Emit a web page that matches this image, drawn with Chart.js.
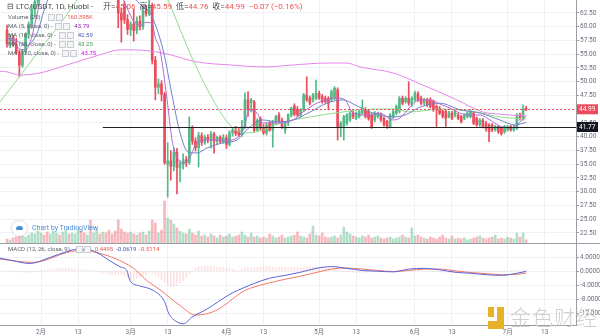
<!DOCTYPE html>
<html>
<head>
<meta charset="utf-8">
<title>LTC/USDT 1D</title>
<script src="https://cdn.jsdelivr.net/npm/chart.js@4.4.1/dist/chart.umd.min.js"></script>
<style>
  body { margin: 0; width: 600px; height: 336px; overflow: hidden; background: #fff; position: relative;
         font-family: Roboto, "Noto Sans CJK SC", sans-serif; }
  canvas { position: absolute; left: 0; }
  #priceCanvas { top: 0; }
  #macdCanvas { top: 243px; }
  .t { position: absolute; white-space: nowrap; line-height: 1; }
  .hdr { font-size: 8px; color: #4a4a4a; }
  .lg { font-size: 6px; color: #5d606b; }
  .up { color: #ef5350; }
  .ico { display: inline-block; width: 5px; height: 5px; border: 1px solid #c9cbd1; background: #f4f5f7;
         margin-right: 1px; vertical-align: middle; }
  #tv { left: 12px; top: 221px; font-size: 7px; color: #4a90d9; }
  #tv .c { display: inline-block; width: 15px; height: 15px; border-radius: 50%; background: #fff;
           box-shadow: 0 0 3px rgba(0,0,0,0.25); vertical-align: middle; margin-right: 5px; position: relative; }
  #tv .c:after { content: ''; position: absolute; left: 4px; top: 5px; width: 7px; height: 4px;
                 background: #4a90d9; border-radius: 3px 3px 1px 1px; }
  #logo { left: 488px; top: 306px; }
  #logo .mark { position: absolute; left: 0; top: 1px; width: 16px; height: 22px; }
  #logo .mark b { position: absolute; background: #e8b12a; }
  #logo .txt { position: absolute; left: 22px; top: 0; font-size: 21px; color: #cfcfcf; letter-spacing: 1px;
               font-family: "Noto Sans CJK SC", sans-serif; font-weight: 300; }
</style>
</head>
<body>
<canvas id="priceCanvas" width="600" height="243"></canvas>
<canvas id="macdCanvas" width="600" height="93"></canvas>

<div class="t hdr" style="left:7px;top:3px;">⊟ LTC/USDT, 1D, Huobi -</div>
<div class="t hdr" style="left:103px;top:3px;">开=<span class="up">45.06</span> &nbsp;高=<span class="up">45.59</span> &nbsp;低=<span class="up">44.76</span> &nbsp;收=<span class="up">44.99</span> &nbsp;<span class="up">−0.07 (−0.16%)</span></div>

<div class="t lg" style="left:8px;top:14px;">Volume (20) &nbsp;&nbsp;&nbsp;&nbsp;<span class="ico"></span><span class="ico"></span> &nbsp;<span class="up">160.398K</span></div>
<div class="t lg" style="left:8px;top:23px;">MA (5, close, 0) - &nbsp;<span class="ico"></span><span class="ico"></span> &nbsp;<span style="color:#9c27b0">43.79</span></div>
<div class="t lg" style="left:8px;top:32px;">MA (10, close, 0) - &nbsp;<span class="ico"></span><span class="ico"></span> &nbsp;<span style="color:#3f51b5">42.59</span></div>
<div class="t lg" style="left:8px;top:41px;">MA (30, close, 0) - &nbsp;<span class="ico"></span><span class="ico"></span> &nbsp;<span style="color:#43a047">43.25</span></div>
<div class="t lg" style="left:8px;top:50px;">MA (120, close, 0) - &nbsp;<span class="ico"></span><span class="ico"></span> &nbsp;<span style="color:#d500f9">43.75</span></div>

<div class="t lg" style="left:8px;top:246px;">MACD (12, 26, close, 9) &nbsp;&nbsp;&nbsp;<span class="ico"></span><span class="ico"></span> &nbsp;<span class="up">0.4495</span> &nbsp;<span style="color:#3f51b5">-0.0619</span> &nbsp;<span class="up">-0.5114</span></div>

<div class="t" id="tv"><span class="c"></span>Chart by TradingView</div>

<div class="t" id="logo">
  <div class="mark"><b style="left:0;top:0;width:6px;height:10px"></b><b style="left:9px;top:0;width:7px;height:17px"></b><b style="left:0;top:14px;width:16px;height:8px"></b></div>
  <div class="txt">金色财经</div>
</div>

<script>
// Daily candles [open, high, low, close], index 0 is the first visible day (late January).
const ohlc = [
  [59.4, 60.3, 56.3, 56.9], [56.9, 58.6, 56.2, 58.1], [58.1, 58.5, 56.4, 56.8], [56.8, 57.9, 55.0, 55.3],
  [55.3, 55.8, 50.9, 53.0], [53.0, 55.9, 52.6, 55.5], [55.5, 58.9, 55.1, 58.6], [58.6, 60.9, 57.9, 60.4],
  [60.4, 64.0, 59.7, 63.2], [63.2, 65.8, 61.8, 64.6], [64.6, 68.8, 63.9, 68.2], [68.2, 70.0, 66.8, 69.3],
  [69.3, 70.5, 67.2, 68.1], [68.1, 68.9, 65.6, 66.5], [66.5, 70.8, 66.0, 70.2], [70.2, 72.0, 68.9, 71.3],
  [71.3, 74.5, 70.6, 73.9], [73.9, 75.0, 71.4, 72.3], [72.3, 75.2, 71.8, 74.6], [74.6, 79.6, 73.9, 78.9],
  [78.9, 79.9, 73.2, 74.0], [74.0, 77.6, 73.4, 76.8], [76.8, 78.5, 75.1, 77.4], [77.4, 84.9, 77.0, 83.6],
  [83.6, 84.2, 74.2, 75.4], [75.4, 76.8, 70.1, 72.2], [72.2, 74.9, 71.8, 74.3], [74.3, 75.5, 70.5, 71.4],
  [71.4, 73.0, 69.8, 71.9], [71.9, 74.8, 71.2, 73.9], [73.9, 74.6, 71.0, 72.4], [72.4, 73.8, 70.9, 73.3],
  [73.3, 73.9, 68.2, 69.2], [69.2, 70.5, 67.5, 68.1], [68.1, 69.6, 66.4, 67.6], [67.6, 68.3, 65.2, 66.0],
  [66.0, 67.0, 59.8, 62.5], [62.5, 63.4, 57.2, 61.2], [63.8, 64.6, 60.6, 61.3], [61.3, 62.2, 58.6, 59.5],
  [59.5, 60.9, 58.4, 60.5], [60.5, 63.2, 57.4, 59.3], [59.3, 61.8, 58.7, 61.0], [61.0, 62.0, 59.4, 60.0],
  [60.0, 63.6, 59.5, 63.0], [63.0, 63.9, 61.9, 62.4], [62.4, 65.5, 62.0, 63.9], [63.9, 64.3, 53.2, 53.9],
  [53.9, 54.6, 46.7, 49.0], [49.0, 50.5, 47.8, 49.6], [49.6, 50.2, 46.5, 47.7], [47.7, 48.1, 35.0, 35.3],
  [35.0, 38.9, 29.0, 35.6], [35.6, 37.5, 32.1, 34.6], [34.6, 38.0, 33.8, 37.2], [37.2, 37.9, 29.6, 34.4],
  [34.4, 35.6, 31.8, 35.0], [35.0, 36.9, 34.1, 35.8], [35.8, 36.4, 34.6, 35.3], [35.3, 43.6, 35.0, 41.6],
  [41.6, 42.0, 38.6, 39.2], [39.2, 39.8, 37.4, 38.0], [38.0, 40.8, 34.5, 40.2], [40.2, 40.7, 38.4, 39.0],
  [39.0, 40.3, 38.6, 39.9], [39.9, 40.4, 38.9, 39.4], [39.4, 41.0, 37.9, 40.5], [40.5, 40.8, 37.0, 39.2],
  [39.2, 40.1, 38.7, 39.9], [39.9, 40.2, 38.9, 39.1], [39.1, 40.4, 38.8, 39.8], [39.8, 40.3, 37.9, 38.6],
  [38.6, 41.1, 38.3, 40.7], [40.7, 41.6, 40.1, 41.2], [41.2, 41.9, 40.2, 40.6], [41.0, 41.5, 40.0, 40.4],
  [40.4, 43.0, 40.1, 41.8], [41.8, 48.0, 41.5, 46.7], [46.7, 48.2, 43.7, 44.9], [46.2, 47.0, 44.5, 46.7],
  [46.3, 46.6, 40.8, 41.2], [41.2, 43.3, 40.9, 43.0], [43.3, 43.6, 41.2, 41.6], [41.6, 42.3, 40.4, 40.7],
  [40.7, 42.5, 40.3, 42.1], [42.4, 42.8, 41.0, 41.2], [41.2, 43.0, 38.1, 42.7], [42.7, 43.9, 42.3, 43.6],
  [43.9, 44.4, 42.5, 42.9], [42.9, 43.4, 41.5, 41.8], [41.2, 42.8, 40.6, 42.5], [42.5, 44.2, 42.0, 44.0],
  [43.9, 45.4, 43.6, 45.2], [45.6, 46.0, 43.8, 44.1], [45.0, 45.5, 43.7, 43.95], [43.95, 45.1, 43.6, 44.9],
  [44.9, 47.9, 44.6, 47.6], [47.6, 50.9, 46.4, 46.7], [47.0, 47.4, 45.8, 46.1], [46.7, 47.9, 46.3, 47.6],
  [47.0, 50.3, 46.7, 47.9], [47.9, 48.3, 46.8, 47.0], [47.3, 47.7, 46.1, 46.4], [47.0, 47.4, 46.1, 46.4],
  [47.0, 47.3, 44.9, 46.1], [46.7, 48.5, 46.4, 48.2], [47.0, 49.1, 46.7, 48.8], [48.5, 48.9, 39.4, 41.8],
  [41.6, 42.8, 40.0, 42.45], [41.85, 43.9, 39.4, 43.65], [42.45, 44.2, 42.1, 43.95], [43.05, 44.6, 42.8, 44.3],
  [44.3, 44.6, 43.3, 43.65], [43.35, 44.5, 43.1, 44.3], [43.65, 44.9, 43.4, 44.6], [44.3, 46.7, 44.0, 45.2],
  [44.9, 45.3, 43.4, 43.65], [44.6, 44.9, 43.0, 43.35], [43.95, 44.2, 41.5, 41.85], [43.05, 44.6, 42.7, 44.3],
  [43.65, 44.5, 43.4, 44.3], [43.95, 44.3, 42.8, 43.05], [43.35, 43.6, 41.9, 42.15], [42.75, 43.0, 41.5, 41.85],
  [41.85, 44.2, 41.6, 43.95], [43.65, 44.9, 43.3, 44.6], [44.3, 45.8, 44.0, 45.5], [44.6, 47.3, 44.3, 47.0],
  [47.0, 47.4, 45.8, 46.1], [46.4, 47.3, 46.1, 47.0], [47.0, 50.0, 45.7, 46.1], [45.8, 47.3, 45.5, 47.0],
  [46.7, 48.3, 46.4, 47.9], [47.8, 48.2, 46.4, 46.7], [47.0, 47.4, 45.8, 46.1], [46.1, 47.0, 45.8, 46.7],
  [46.7, 47.0, 45.5, 45.8], [46.7, 47.1, 45.2, 45.5], [46.4, 46.7, 44.6, 44.9], [45.5, 45.8, 41.85, 44.9],
  [45.2, 45.5, 44.0, 44.3], [44.6, 44.9, 43.4, 43.65], [44.6, 44.9, 41.85, 43.35], [43.65, 44.6, 43.4, 44.3],
  [44.3, 44.6, 43.1, 43.35], [43.95, 44.9, 43.6, 44.6], [43.95, 44.3, 43.1, 43.35], [43.65, 43.9, 42.5, 42.75],
  [43.35, 44.2, 43.1, 43.95], [43.65, 44.5, 43.4, 44.3], [43.65, 44.9, 43.4, 44.6], [44.3, 44.6, 42.2, 42.45],
  [43.35, 43.6, 41.9, 42.15], [42.15, 43.3, 41.9, 43.05], [43.05, 43.3, 41.6, 41.85], [42.45, 42.8, 41.0, 41.55],
  [42.15, 42.4, 39.1, 40.9], [42.15, 42.4, 40.9, 41.25], [41.25, 42.1, 41.0, 41.85], [41.85, 42.1, 40.6, 40.9],
  [41.55, 41.8, 40.3, 40.6], [40.9, 42.1, 40.6, 41.85], [41.25, 42.1, 41.0, 41.85], [41.85, 42.1, 41.0, 41.25],
  [41.25, 42.1, 41.0, 41.7], [41.55, 44.2, 41.3, 43.95], [43.95, 44.3, 43.0, 43.35], [43.2, 45.8, 43.0, 45.06],
  [45.06, 45.59, 44.76, 44.99]
];

// Daily volume, thousands of LTC
const volumes = [
  200, 150, 250, 300, 450, 350, 300, 400, 500, 450, 600, 500, 400, 550, 450, 600, 500, 400, 550, 650,
  450, 500, 450, 700, 600, 500, 400, 1150, 500, 700, 450, 550, 500, 650, 450, 600, 1150, 700, 550, 500,
  550, 450, 400, 500, 550, 400, 600, 1150, 1000, 500, 650, 2100, 1250, 1150, 950, 750, 600, 500, 450, 700,
  500, 400, 600, 350, 400, 300, 450, 350, 250, 400, 300, 350, 450, 300, 350, 400, 550, 400, 300, 500,
  300, 350, 250, 300, 250, 450, 350, 250, 300, 400, 250, 300, 350, 400, 550, 350, 300, 250, 450, 850,
  400, 350, 500, 300, 250, 300, 350, 250, 400, 800, 550, 450, 350, 300, 250, 350, 300, 400, 250, 300,
  350, 250, 200, 250, 300, 200, 250, 300, 400, 300, 250, 750, 350, 400, 300, 250, 200, 300, 250, 200,
  300, 400, 250, 200, 350, 200, 250, 200, 250, 150, 200, 250, 300, 350, 250, 200, 250, 300, 400, 200,
  250, 200, 300, 250, 200, 500, 300, 500, 160.398
];

// Moving averages as [day index, value]
const ma5Pts = [[0, 57.9], [2, 57.3], [4, 56.0], [6, 55.8], [8, 58.1], [9, 60.5], [10, 63.0], [11, 65.8], [14, 68.5],
  [18, 72.5], [22, 76.5], [25, 78.0], [28, 74.5], [32, 72.0], [35, 68.5], [37, 65.8], [39, 63.2], [41, 61.0],
  [43, 60.3], [45, 60.8], [47, 60.5], [48, 58.0], [49.5, 55.8], [51.8, 46.7], [53.4, 39.4], [55, 36.3], [57, 35.2],
  [59.2, 36.3], [61.5, 38.9], [65.7, 39.4], [72.2, 39.4], [76.4, 41.2], [78.6, 44.9], [80.9, 44.3], [82.8, 42.5],
  [87.4, 42.5], [92.6, 43.05], [95.8, 44.5], [100.3, 46.1], [106.8, 47.05], [109.4, 46.7], [112, 44.3],
  [116.5, 43.95], [120.7, 44.3], [124.9, 43.05], [127.2, 43.4], [130.4, 45.4], [133.7, 46.7], [136.9, 46.7],
  [140.1, 45.95], [143.4, 45.2], [146.6, 44.3], [149.8, 43.95], [153.1, 43.95], [156.3, 43.05], [159.5, 41.95],
  [162.8, 41.6], [165, 42.15], [168, 43.79]];
const ma10Pts = [[0, 58.0], [3, 57.5], [6, 56.6], [8, 57.2], [10, 59.2], [12, 63.0], [14, 66.0], [20, 72.0],
  [25, 76.0], [30, 75.0], [35, 71.0], [40, 66.0], [44, 63.6], [46.3, 62.5], [50.5, 55.8], [53.7, 46.7], [56, 40.7],
  [58.6, 37.2], [61.5, 37.05], [64.7, 37.95], [69.9, 38.9], [74.4, 39.4], [78.6, 41.8], [82.8, 43.05], [87.4, 42.7],
  [92.6, 43.05], [98.1, 44.5], [103.6, 46.1], [108.7, 46.7], [112.6, 45.8], [117.5, 44.5], [124.9, 43.6],
  [128.8, 43.95], [133.7, 45.4], [140.1, 46.1], [146.6, 44.9], [153.1, 44.3], [159.5, 43.05], [164.4, 42.15],
  [168, 42.59]];
const ma30Pts = [[-2.3, 46.3], [4.2, 51.05], [10.7, 55.9], [17.2, 60.5], [22.7, 64.86], [28, 68], [35, 71],
  [40, 71.5], [45, 70], [50, 67.5], [52.1, 64.86], [60.2, 53.95], [66.7, 46.7], [72.2, 42.1], [77, 40.7],
  [81.9, 41.05], [86.7, 42.1], [92.6, 43.05], [98.1, 43.6], [103.6, 44.1], [108.7, 44.5], [114.2, 44.9],
  [124.9, 45.05], [130.4, 44.5], [134.6, 44.7], [140.1, 45.05], [145.6, 44.9], [152.1, 44.5], [159.5, 43.6],
  [168, 43.25]];
const ma120Pts = [[-2.3, 51.9], [0, 51.8], [4.2, 51.2], [10.7, 51.6], [19.4, 53.05], [30.1, 54.9], [36.6, 55.8],
  [40.8, 55.8], [50.5, 55.2], [61.5, 53.6], [72.2, 53.05], [83.5, 52.7], [92.6, 53.05], [103.6, 53.4], [110, 53.4],
  [114.2, 52.7], [124.9, 51.6], [134.6, 49.4], [145.6, 46.7], [154, 44.5], [159.5, 44.1], [165, 43.85],
  [168, 43.75]];

// MACD (12, 26, 9) lines as [day index, value]
const macdPts = [[-2.3, 3.7], [1, 3.15], [7.4, 2.2], [13.9, 3.9], [19.4, 5.6], [22.7, 6.25], [25.9, 6.25],
  [29.1, 5.3], [33.3, 2.95], [36.6, 1.25], [38.8, 0.15], [39.8, -2.7], [43, -4.2], [47.3, -5.5], [51, -8.7],
  [52.3, -12.0], [54.7, -14.3], [57.2, -15.0], [59.7, -13.2], [64.7, -10.8], [72.1, -6.6], [74.6, -5.5],
  [80, -3.5], [85, -2.0], [90, -1.2], [95, -0.3], [100, 0.8], [105, 1.3], [110, 0.8], [115, 0.2], [120, 0.0],
  [125, -0.2], [130, 0.6], [135, 0.8], [140, 0.4], [145, -0.3], [150, -0.6], [155, -1.0], [160, -1.2],
  [165, -0.6], [168, -0.0619]];
const signalPts = [[-2.3, 3.45], [8.4, 2.5], [22.7, 5.8], [29.1, 5.3], [40.8, 0.9], [45, -2.5], [49.8, -5.5],
  [56, -9.8], [61, -12.5], [67.2, -11.4], [77, -5.5], [80, -4.5], [85, -3.3], [90, -2.3], [95, -1.4],
  [100, -0.4], [105, 0.6], [110, 0.9], [115, 0.6], [120, 0.2], [125, -0.1], [130, 0.2], [135, 0.6], [140, 0.6],
  [145, 0.1], [150, -0.4], [155, -0.7], [160, -1.0], [165, -0.9], [168, -0.5114]];
// MACD histogram, one bar per day
const histVals = [
  0.2, 0.1, 0.0, -0.1, -0.2, -0.3, -0.35, -0.35, -0.3, -0.2,
  -0.1, 0.0, 0.2, 0.3, 0.4, 0.6, 0.7, 0.8, 0.9, 1.0,
  0.9, 0.8, 0.6, 0.45, 0.4, 0.35, 0.3, 0.2, 0.1, 0.0,
  -0.2, -0.4, -0.6, -0.85, -0.9, -0.9, -0.85, -1.0, -1.3, -1.8,
  -2.4, -2.2, -2.0, -1.6, -1.2, -0.9, -0.6, -0.5, -0.9, -1.5,
  -2.5, -3.2, -3.8, -4.2, -4.3, -4.0, -3.4, -2.7, -1.8, -0.9,
  0.0, 0.8, 1.2, 1.4, 1.5, 1.5, 1.4, 1.3, 1.2, 1.1,
  1.0, 0.9, 0.8, 0.6, 0.3, 0.1, 0.5, 0.9, 1.0, 1.0,
  1.0, 1.1, 1.2, 1.3, 1.3, 1.3, 1.3, 1.2, 1.1, 1.1,
  1.1, 1.0, 1.0, 1.0, 1.0, 1.0, 1.0, 1.1, 1.2, 1.2,
  1.2, 1.1, 1.0, 0.9, 0.8, 0.7, 0.5, 0.3, 0.1, -0.1,
  -0.1, -0.2, -0.3, -0.4, -0.4, -0.4, -0.3, -0.3, -0.2, -0.2,
  -0.2, -0.2, -0.2, -0.1, -0.1, -0.1, 0.0, 0.1, 0.2, 0.3,
  0.4, 0.4, 0.3, 0.3, 0.2, 0.2, 0.1, 0.0, -0.1, -0.2,
  -0.2, -0.3, -0.3, -0.4, -0.4, -0.4, -0.3, -0.3, -0.2, -0.2,
  -0.2, -0.3, -0.3, -0.3, -0.3, -0.3, -0.2, -0.2, -0.2, -0.2,
  -0.2, -0.1, 0.0, 0.1, 0.2, 0.3, 0.3, 0.35, 0.4495
];

// Axis ticks
const priceTicks = [22.5, 25, 27.5, 30, 32.5, 35, 37.5, 40, 42.5, 45, 47.5, 50, 52.5, 55, 57.5, 60, 62.5];
const macdTicks = [4, 0, -4, -8, -12];
const timeTickIdx = [11, 23, 40, 52, 71, 83, 101, 113, 132, 144, 162, 174];
const timeTickLabels = ['2月', '13', '3月', '13', '4月', '13', '5月', '13', '6月', '13', '7月', '13'];

// Horizontal levels
const lastPrice = 44.99;
const supportLevel = 41.77;
const supportFrom = 31;

const UP = '#53b987', DOWN = '#eb4d5c';
const GRID = '#eff1f4';
const AXIS = '#9a9da6';
const X_MIN = -2.27, X_MAX = 184.14;

function isUp(c) { return c[3] >= c[0]; }
const candleColors = ohlc.map(c => isUp(c) ? UP : DOWN);
const volColors = ohlc.map(c => isUp(c) ? 'rgba(83,185,135,0.45)' : 'rgba(235,77,92,0.4)');
const pts = arr => arr.map(p => ({x: p[0], y: p[1]}));

function xAxis(showLabels) {
  return {
    type: 'linear', min: X_MIN, max: X_MAX, offset: false,
    afterBuildTicks: s => { s.ticks = timeTickIdx.map(v => ({value: v})); },
    grid: {color: GRID, drawTicks: false, offset: false},
    border: {display: showLabels, color: AXIS},
    ticks: {
      display: showLabels, padding: 3, maxRotation: 0, autoSkip: false,
      color: '#6b6e78', font: {size: 6.5, family: 'Roboto, "Noto Sans CJK SC"'},
      callback: (v, i) => timeTickLabels[i]
    },
    afterFit: s => { s.height = showLabels ? 11 : 0; s.paddingLeft = 0; s.paddingRight = 0; }
  };
}

function yAxis(min, max, ticks, fmt) {
  return {
    position: 'right', min: min, max: max,
    afterBuildTicks: s => { s.ticks = ticks.map(v => ({value: v})); },
    grid: {color: GRID, tickLength: 3, tickColor: AXIS},
    border: {color: AXIS},
    ticks: {color: '#6b6e78', padding: 1, font: {size: 6.5, family: 'Roboto'}, callback: fmt},
    afterFit: s => { s.width = 24; s.paddingTop = 0; s.paddingBottom = 0; }
  };
}

// Price label boxes and the horizontal level lines
const levelLines = {
  id: 'levelLines',
  afterDatasetsDraw(chart) {
    const {ctx, chartArea: a, scales: {x, y}} = chart;
    const yLast = Math.round(y.getPixelForValue(lastPrice)) + 0.5;
    const ySup = Math.round(y.getPixelForValue(supportLevel)) + 0.5;
    ctx.save();
    ctx.strokeStyle = DOWN;
    ctx.lineWidth = 1;
    ctx.setLineDash([2, 2]);
    ctx.beginPath(); ctx.moveTo(a.left, yLast); ctx.lineTo(a.right, yLast); ctx.stroke();
    ctx.setLineDash([]);
    ctx.strokeStyle = '#222';
    ctx.beginPath(); ctx.moveTo(x.getPixelForValue(supportFrom), ySup); ctx.lineTo(a.right, ySup); ctx.stroke();
    ctx.restore();
  },
  afterDraw(chart) {
    const {ctx, chartArea: a, scales: {y}} = chart;
    const boxes = [[lastPrice, DOWN], [supportLevel, '#131722']];
    ctx.save();
    ctx.font = '6.5px Roboto';
    ctx.textBaseline = 'middle';
    boxes.forEach(([v, col]) => {
      const py = y.getPixelForValue(v);
      ctx.fillStyle = col;
      ctx.fillRect(a.right + 1, py - 5, 21, 10);
      ctx.fillStyle = '#fff';
      ctx.fillText(v.toFixed(2), a.right + 3, py + 0.5);
    });
    ctx.restore();
  }
};

const maLine = (label, data, color) => ({
  type: 'line', label: label, data: pts(data), yAxisID: 'y', borderColor: color, borderWidth: 1,
  pointRadius: 0, cubicInterpolationMode: 'monotone', order: 1
});

new Chart(document.getElementById('priceCanvas'), {
  type: 'bar',
  data: {
    datasets: [
      {label: 'Volume', data: volumes.map((v, i) => ({x: i, y: v})), yAxisID: 'yv',
       backgroundColor: volColors, barThickness: 2, grouped: false, order: 5},
      {label: 'wick', data: ohlc.map((c, i) => ({x: i, y: [c[2], c[1]]})), yAxisID: 'y',
       backgroundColor: candleColors, barThickness: 1, grouped: false, order: 3},
      {label: 'body', data: ohlc.map((c, i) => ({x: i, y: [c[0], c[3]]})), yAxisID: 'y',
       backgroundColor: candleColors, barThickness: 2, minBarLength: 1, grouped: false, order: 2},
      maLine('MA 5', ma5Pts, '#b36ad6'),
      maLine('MA 10', ma10Pts, '#7083c4'),
      maLine('MA 30', ma30Pts, '#8fdc8a'),
      maLine('MA 120', ma120Pts, '#e586ec')
    ]
  },
  options: {
    animation: false, responsive: false, maintainAspectRatio: false,
    layout: {padding: 0},
    plugins: {legend: {display: false}, tooltip: {enabled: false}},
    scales: {
      x: xAxis(false),
      y: yAxis(20.68, 64.86, priceTicks, v => v.toFixed(2)),
      yv: {display: false, min: 0, max: 12150}
    }
  },
  plugins: [levelLines]
});

// Thin separator along the top of the MACD pane
const paneTop = {
  id: 'paneTop',
  afterDraw(chart) {
    const ctx = chart.ctx;
    ctx.save();
    ctx.fillStyle = AXIS;
    ctx.fillRect(0, 0, chart.width, 1);
    ctx.restore();
  }
};

new Chart(document.getElementById('macdCanvas'), {
  type: 'bar',
  data: {
    datasets: [
      {type: 'line', label: 'MACD', data: pts(macdPts), borderColor: '#5c63d6', borderWidth: 1, pointRadius: 0,
       cubicInterpolationMode: 'monotone', order: 1},
      {type: 'line', label: 'Signal', data: pts(signalPts), borderColor: '#f07a6a', borderWidth: 1, pointRadius: 0,
       cubicInterpolationMode: 'monotone', order: 2},
      {label: 'Histogram', data: histVals.map((v, i) => ({x: i, y: v})), backgroundColor: 'rgba(240,110,110,0.2)',
       barThickness: 1, order: 3}
    ]
  },
  options: {
    animation: false, responsive: false, maintainAspectRatio: false,
    layout: {padding: {top: 1}},
    plugins: {legend: {display: false}, tooltip: {enabled: false}},
    scales: {
      x: xAxis(true),
      y: yAxis(-15.35, 7.75, macdTicks, v => v.toFixed(4))
    }
  },
  plugins: [paneTop]
});
</script>
</body>
</html>
